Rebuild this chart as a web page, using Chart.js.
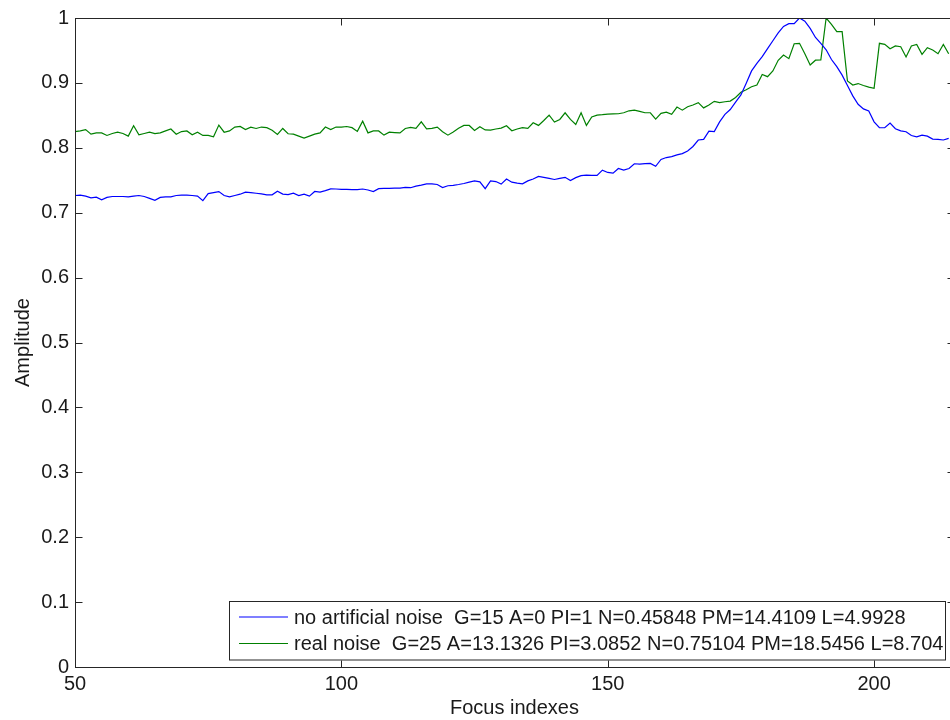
<!DOCTYPE html>
<html>
<head>
<meta charset="utf-8">
<title>Amplitude vs focus index</title>
<script src="https://cdn.jsdelivr.net/npm/chart.js@4.4.1/dist/chart.umd.min.js"></script>
<style>
  html, body { margin: 0; padding: 0; background: #ffffff; overflow: hidden; }
  #wrap { width: 950px; height: 720px; overflow: hidden; position: relative; }
  canvas { position: absolute; left: 0; top: 0; }
</style>
</head>
<body>
<div id="wrap"><canvas id="chart" width="958" height="720"></canvas></div>
<script>
// Focus index of the first sample; one sample per index after that.
const firstFocusIndex = 50;

// Normalised amplitude, no artificial noise.
const noArtificialNoise = [
  0.7265, 0.727, 0.7255, 0.723, 0.724, 0.720, 0.7235, 0.725, 0.725, 0.725,
  0.7245, 0.7255, 0.7265, 0.725, 0.722, 0.719, 0.7235, 0.7245, 0.7245, 0.7265,
  0.727, 0.727, 0.7265, 0.7255, 0.7185, 0.7295, 0.731, 0.7325, 0.7265, 0.7245,
  0.7265, 0.7285, 0.7317, 0.731, 0.730, 0.729, 0.7275, 0.7275, 0.733, 0.7286,
  0.728, 0.730, 0.7265, 0.7286, 0.7255, 0.7327, 0.7317, 0.734, 0.7368, 0.7365,
  0.736, 0.736, 0.7355, 0.7355, 0.7365, 0.735, 0.7325, 0.737, 0.7375, 0.7375,
  0.7378, 0.738, 0.739, 0.7385, 0.741, 0.7425, 0.7445, 0.7445, 0.7435, 0.7388,
  0.7415, 0.742, 0.7434, 0.745, 0.747, 0.749, 0.7475, 0.737, 0.749, 0.748,
  0.744, 0.752, 0.747, 0.7455, 0.7445, 0.749, 0.752, 0.756, 0.7545, 0.753,
  0.7512, 0.753, 0.7545, 0.7497, 0.754, 0.757, 0.758, 0.7575, 0.7574, 0.7656,
  0.762, 0.761, 0.7682, 0.7655, 0.768, 0.7754, 0.775, 0.7755, 0.776, 0.7715,
  0.782, 0.785, 0.7865, 0.789, 0.791, 0.795, 0.802, 0.812, 0.813, 0.8258,
  0.825, 0.840, 0.8515, 0.859, 0.8705, 0.8815, 0.8995, 0.9185, 0.930, 0.9404,
  0.9527, 0.965, 0.977, 0.987, 0.9913, 0.9913, 1.000, 0.995, 0.984, 0.970,
  0.961, 0.951, 0.936, 0.925, 0.912, 0.896, 0.880, 0.867, 0.860, 0.8566,
  0.840, 0.8309, 0.8309, 0.838, 0.8293, 0.826, 0.8247, 0.819, 0.817, 0.8196,
  0.818, 0.8135, 0.813, 0.812, 0.8145
];

// Normalised amplitude, real noise.
const realNoise = [
  0.825, 0.826, 0.828, 0.821, 0.823, 0.823, 0.819, 0.822, 0.824, 0.822,
  0.818, 0.834, 0.820, 0.822, 0.824, 0.822, 0.823, 0.826, 0.829, 0.821,
  0.825, 0.826, 0.820, 0.824, 0.819, 0.819, 0.817, 0.835, 0.824, 0.826,
  0.832, 0.833, 0.828, 0.8318, 0.8298, 0.832, 0.831, 0.827, 0.8206, 0.8298,
  0.8216, 0.821, 0.818, 0.815, 0.818, 0.821, 0.823, 0.832, 0.828, 0.832,
  0.8318, 0.8328, 0.831, 0.8253, 0.841, 0.823, 0.826, 0.826, 0.8195, 0.824,
  0.8235, 0.823, 0.8298, 0.8315, 0.830, 0.840, 0.8293, 0.830, 0.8318, 0.8247,
  0.8195, 0.8245, 0.830, 0.8344, 0.8344, 0.8267, 0.8324, 0.8275, 0.8272, 0.829,
  0.8303, 0.834, 0.8262, 0.829, 0.831, 0.830, 0.8386, 0.8345, 0.842, 0.8504,
  0.8396, 0.8437, 0.854, 0.8437, 0.836, 0.854, 0.8345, 0.8475, 0.8504, 0.851,
  0.852, 0.8522, 0.8525, 0.854, 0.857, 0.858, 0.8561, 0.854, 0.854, 0.8442,
  0.853, 0.855, 0.8515, 0.8628, 0.858, 0.8633, 0.866, 0.8695, 0.8615, 0.866,
  0.8716, 0.8695, 0.871, 0.872, 0.8775, 0.8855, 0.8895, 0.894, 0.8968, 0.913,
  0.9096, 0.9183, 0.9348, 0.943, 0.9374, 0.9604, 0.961, 0.945, 0.9276, 0.935,
  0.9353, 1.000, 0.9903, 0.979, 0.979, 0.903, 0.8968, 0.899, 0.896, 0.8935,
  0.8917, 0.961, 0.9594, 0.9527, 0.9569, 0.9558, 0.940, 0.9569, 0.9594, 0.944,
  0.9543, 0.9507, 0.945, 0.9594, 0.945
];

const seriesLabels = [
  'no artificial noise  G=15 A=0 PI=1 N=0.45848 PM=14.4109 L=4.9928',
  'real noise  G=25 A=13.1326 PI=3.0852 N=0.75104 PM=18.5456 L=8.704'
];

const xTickValues = [50, 100, 150, 200];
const yTickValues = [0, 0.1, 0.2, 0.3, 0.4, 0.5, 0.6, 0.7, 0.8, 0.9, 1];
const yTickLabels = ['0', '0.1', '0.2', '0.3', '0.4', '0.5', '0.6', '0.7', '0.8', '0.9', '1'];

const FONT_FAMILY = '"Liberation Sans", Arial, Helvetica, sans-serif';
const FONT_SIZE = 20;
const TEXT_COLOR = '#1a1a1a';
const AXIS_COLOR = '#262626';
const TICK_LEN = 7;

const toPoints = values => values.map((v, i) => ({ x: firstFocusIndex + i, y: v }));

// Box round the axes with inward ticks on all four sides, plus the legend box.
const boxedAxes = {
  id: 'boxedAxes',
  afterDatasetsDraw(chart) {
    const { ctx, chartArea: a, scales: { x, y } } = chart;
    ctx.save();
    ctx.strokeStyle = AXIS_COLOR;
    ctx.lineWidth = 1;
    const L = Math.round(a.left) + 0.5, R = Math.round(a.right) + 0.5;
    const T = Math.round(a.top) + 0.5, B = Math.round(a.bottom) + 0.5;
    ctx.strokeRect(L, T, R - L, B - T);
    ctx.beginPath();
    xTickValues.forEach(v => {
      const px = Math.round(x.getPixelForValue(v)) + 0.5;
      ctx.moveTo(px, B); ctx.lineTo(px, B - TICK_LEN);
      ctx.moveTo(px, T); ctx.lineTo(px, T + TICK_LEN);
    });
    yTickValues.forEach(v => {
      const py = Math.round(y.getPixelForValue(v)) + 0.5;
      ctx.moveTo(L, py); ctx.lineTo(L + TICK_LEN, py);
      ctx.moveTo(R, py); ctx.lineTo(R - TICK_LEN, py);
    });
    ctx.stroke();

    // legend
    const box = { left: 229, top: 601.5, right: 945, bottom: 660 };
    ctx.fillStyle = '#ffffff';
    ctx.fillRect(box.left, box.top, box.right - box.left, box.bottom - box.top);
    ctx.strokeStyle = AXIS_COLOR;
    ctx.strokeRect(box.left + 0.5, box.top, box.right - box.left, box.bottom - box.top);
    ctx.font = FONT_SIZE + 'px ' + FONT_FAMILY;
    ctx.textBaseline = 'middle';
    ctx.textAlign = 'left';
    const rowY = [617, 643.5];
    chart.data.datasets.forEach((ds, i) => {
      ctx.strokeStyle = ds.borderColor;
      ctx.lineWidth = ds.borderWidth;
      ctx.beginPath();
      ctx.moveTo(239, rowY[i]); ctx.lineTo(288, rowY[i]);
      ctx.stroke();
      ctx.fillStyle = TEXT_COLOR;
      ctx.fillText(ds.label, 294, rowY[i] + 1);
    });
    ctx.restore();
  }
};

new Chart(document.getElementById('chart'), {
  type: 'line',
  data: {
    datasets: [
      { label: seriesLabels[0], data: toPoints(noArtificialNoise), borderColor: 'rgb(0,0,255)', borderWidth: 1.2, pointRadius: 0, tension: 0, fill: false },
      { label: seriesLabels[1], data: toPoints(realNoise), borderColor: 'rgb(0,128,0)', borderWidth: 1.2, pointRadius: 0, tension: 0, fill: false }
    ]
  },
  options: {
    responsive: false,
    animation: false,
    devicePixelRatio: 1,
    layout: { padding: { top: 18, right: 4, left: 0, bottom: 0 } },
    plugins: { legend: { display: false }, tooltip: { enabled: false } },
    scales: {
      x: {
        type: 'linear', min: 50, max: 215,
        afterBuildTicks: s => { s.ticks = xTickValues.map(v => ({ value: v })); },
        afterFit: s => { s.height = 53; },
        grid: { display: false, drawTicks: false },
        border: { display: false },
        ticks: { color: TEXT_COLOR, font: { family: FONT_FAMILY, size: FONT_SIZE }, padding: 5, maxRotation: 0, autoSkip: false },
        title: { display: true, text: 'Focus indexes', color: TEXT_COLOR, font: { family: FONT_FAMILY, size: FONT_SIZE }, padding: { top: 0, bottom: 0 } }
      },
      y: {
        type: 'linear', min: 0, max: 1,
        afterBuildTicks: s => { s.ticks = yTickValues.map(v => ({ value: v })); },
        afterFit: s => { s.width = 75; },
        grid: { display: false, drawTicks: false },
        border: { display: false },
        ticks: { color: TEXT_COLOR, font: { family: FONT_FAMILY, size: FONT_SIZE }, padding: 6, autoSkip: false,
                 callback: (value, index) => yTickLabels[index] },
        title: { display: true, text: 'Amplitude', color: TEXT_COLOR, font: { family: FONT_FAMILY, size: FONT_SIZE }, padding: { top: 11, bottom: 0 } }
      }
    }
  },
  plugins: [boxedAxes]
});
</script>
</body>
</html>
